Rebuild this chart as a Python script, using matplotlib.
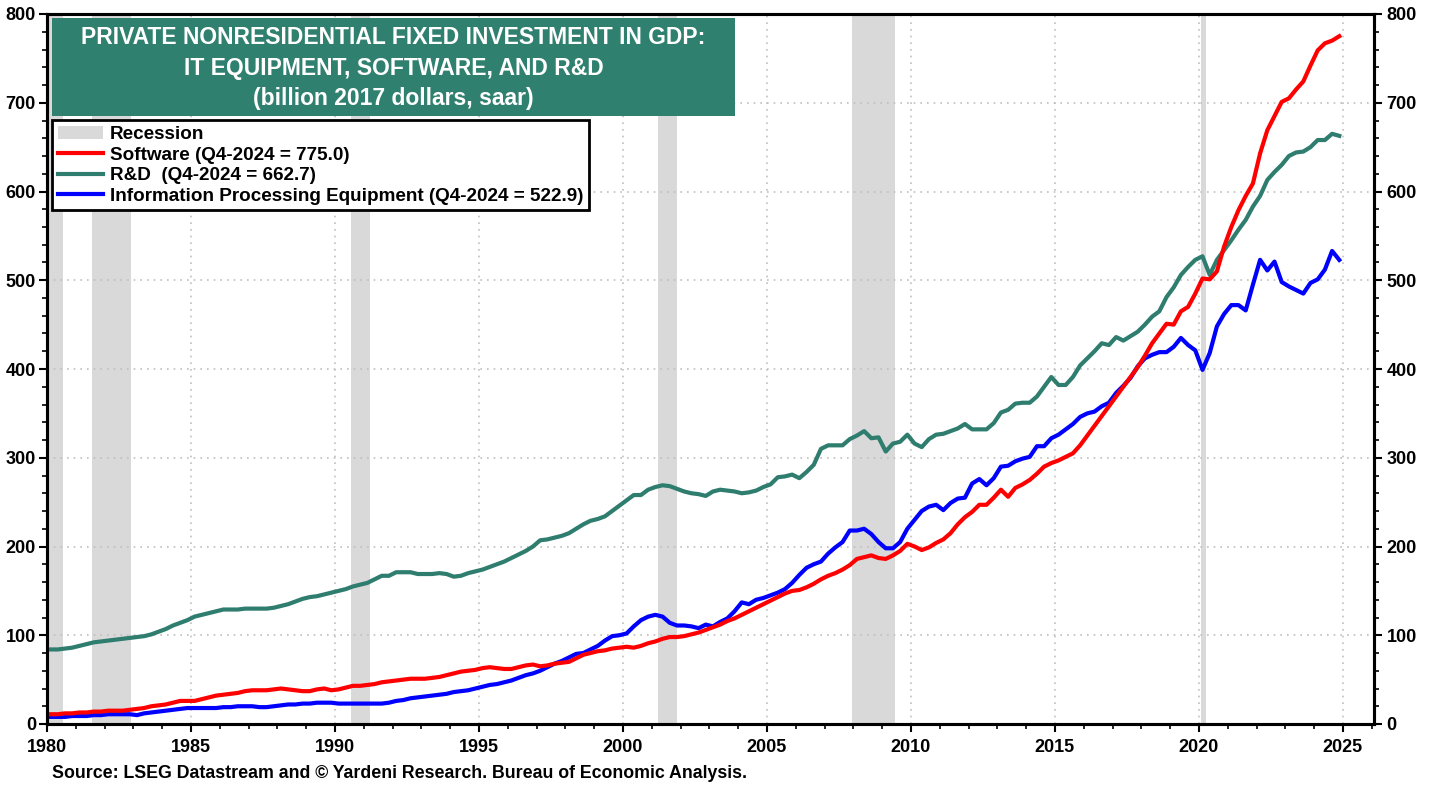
import numpy as np
import matplotlib
matplotlib.use("Agg")
import matplotlib.pyplot as plt
from matplotlib.patches import Rectangle, Patch
from matplotlib.lines import Line2D
from matplotlib.ticker import MultipleLocator

# ---------------- data (quarterly, 1980Q1 .. 2024Q4) ----------------
start_year = 1980
software = [
    11, 11, 12, 12,   13, 13, 14, 14,   15, 15, 15, 16,   17, 18, 20, 21,   22, 24, 26, 26,      # 1980-84
    26, 28, 30, 32,   33, 34, 35, 37,   38, 38, 38, 39,   40, 39, 38, 37,   37, 39, 40, 38,      # 1985-89
    39, 41, 43, 43,   44, 45, 47, 48,   49, 50, 51, 51,   51, 52, 53, 55,   57, 59, 60, 61,      # 1990-94
    63, 64, 63, 62,   62, 64, 66, 67,   65, 66, 68, 69,   70, 74, 78, 80,   82, 83, 85, 86,      # 1995-99
    87, 86, 88, 91,   93, 96, 98, 98,   99, 101, 103, 106, 109, 112, 116, 119, 123, 127, 131, 135,  # 2000-04
    139, 143, 147, 150, 151, 154, 158, 163, 167, 170, 174, 179, 186, 188, 190, 187, 186, 190, 195, 203,  # 2005-09
    200, 196, 199, 204, 208, 215, 225, 233, 239, 247, 247, 255, 264, 256, 266, 270, 275, 282, 290, 294,  # 2010-14
    297, 301, 305, 314, 325, 336, 347, 358, 369, 380, 391, 402, 415, 429, 440, 451, 450, 465, 470, 485,  # 2015-19
    502, 501, 510, 538, 560, 579, 595, 609, 643, 669, 685, 701, 705, 715, 724, 742, 759, 767, 770, 775.0,  # 2020-24
]
rnd = [
    84, 84, 85, 86,   88, 90, 92, 93,   94, 95, 96, 97,   98, 99, 101, 104, 107, 111, 114, 117,
    121, 123, 125, 127, 129, 129, 129, 130, 130, 130, 130, 131, 133, 135, 138, 141, 143, 144, 146, 148,
    150, 152, 155, 157, 159, 163, 167, 167, 171, 171, 171, 169, 169, 169, 170, 169, 166, 167, 170, 172,
    174, 177, 180, 183, 187, 191, 195, 200, 207, 208, 210, 212, 215, 220, 225, 229, 231, 234, 240, 246,
    252, 258, 258, 264, 267, 269, 268, 265, 262, 260, 259, 257, 262, 264, 263, 262, 260, 261, 263, 267,
    270, 278, 279, 281, 277, 284, 292, 310, 314, 314, 314, 321, 325, 330, 322, 323, 307, 316, 318, 326,
    316, 312, 321, 326, 327, 330, 333, 338, 332, 332, 332, 339, 351, 354, 361, 362, 362, 369, 380, 391,
    382, 382, 391, 404, 412, 420, 429, 427, 436, 432, 437, 442, 450, 459, 465, 481, 492, 506, 515, 523,
    527, 506, 523, 534, 545, 557, 568, 583, 595, 613, 622, 630, 640, 644, 645, 650, 658, 658, 665, 662.7,
]
it_equipment = [
    8, 8, 8, 9,       9, 9, 10, 10,     11, 11, 11, 11,   10, 12, 13, 14,   15, 16, 17, 18,
    18, 18, 18, 18,   19, 19, 20, 20,   20, 19, 19, 20,   21, 22, 22, 23,   23, 24, 24, 24,
    23, 23, 23, 23,   23, 23, 23, 24,   26, 27, 29, 30,   31, 32, 33, 34,   36, 37, 38, 40,
    42, 44, 45, 47,   49, 52, 55, 57,   60, 64, 68, 71,   75, 79, 80, 84,   88, 94, 99, 100,
    102, 110, 117, 121, 123, 121, 114, 111, 111, 110, 108, 112, 110, 115, 119, 127, 137, 135, 140, 142,
    145, 148, 152, 159, 168, 176, 180, 183, 192, 199, 205, 218, 218, 220, 214, 205, 198, 198, 205, 220,
    230, 240, 245, 247, 241, 249, 254, 255, 271, 276, 269, 277, 290, 291, 296, 299, 301, 313, 313, 322,
    326, 332, 338, 346, 350, 352, 358, 362, 373, 381, 390, 403, 412, 416, 419, 419, 425, 435, 427, 421,
    399, 418, 448, 462, 472, 472, 466, 495, 523, 511, 521, 498, 493, 489, 485, 497, 501, 512, 533, 522.9,
]
recessions = [(1980.0, 1980.55), (1981.55, 1982.92), (1990.55, 1991.2),
              (2001.22, 2001.87), (2007.95, 2009.45), (2020.07, 2020.24)]
x_ticks = [1980, 1985, 1990, 1995, 2000, 2005, 2010, 2015, 2020, 2025]
y_ticks = [0, 100, 200, 300, 400, 500, 600, 700, 800]
title_lines = ["PRIVATE NONRESIDENTIAL FIXED INVESTMENT IN GDP:",
               "IT EQUIPMENT, SOFTWARE, AND R&D",
               "(billion 2017 dollars, saar)"]
labels = ["Recession", "Software (Q4-2024 = 775.0)", "R&D  (Q4-2024 = 662.7)",
          "Information Processing Equipment (Q4-2024 = 522.9)"]
source = "Source: LSEG Datastream and \u00a9 Yardeni Research. Bureau of Economic Analysis."

# ---------------- styling ----------------
RED = "#FF0000"
TEAL = "#2E7D6F"
BLUE = "#0000FF"
REC = "#D9D9D9"
BOX = "#30806F"
narrow = ["Liberation Sans Narrow", "Liberation Sans", "DejaVu Sans"]
wide = ["Liberation Sans", "DejaVu Sans"]

n = len(software)
t = start_year + np.arange(n) / 4.0 + 0.125

fig = plt.figure(figsize=(14.38, 7.87), dpi=100)
ax = fig.add_axes([47 / 1438, 1 - 724 / 787, (1374 - 47) / 1438, (724 - 14) / 787])

for a, b in recessions:
    ax.axvspan(a, b, color=REC, lw=0, zorder=1)

ax.plot(t, it_equipment, color=BLUE, lw=3.0, zorder=4, solid_joinstyle="round")
ax.plot(t, rnd, color=TEAL, lw=3.0, zorder=3, solid_joinstyle="round")
ax.plot(t, software, color=RED, lw=3.0, zorder=5, solid_joinstyle="round")

ax.set_xlim(1980, 2026.08)
ax.set_ylim(0, 800)
ax.set_xticks(x_ticks)
ax.set_yticks(y_ticks)
ax.xaxis.set_minor_locator(MultipleLocator(1))
ax.yaxis.set_minor_locator(MultipleLocator(20))
ax.grid(True, which="major", color="#BFBFBF", linestyle=(0, (1, 3)), lw=1.2, zorder=0)

for s in ax.spines.values():
    s.set_linewidth(2.2)
ax.tick_params(axis="both", which="major", direction="out", length=6, width=1.5, labelsize=13)
ax.tick_params(axis="both", which="minor", direction="out", length=3.5, width=1.2)
ax.tick_params(axis="x", pad=5)
ax.tick_params(axis="y", pad=2)

ax2 = ax.twinx()
ax2.set_ylim(0, 800)
ax2.set_yticks(y_ticks)
ax2.yaxis.set_minor_locator(MultipleLocator(20))
ax2.tick_params(axis="y", which="major", direction="out", length=6, width=1.5, labelsize=13, pad=3)
ax2.tick_params(axis="y", which="minor", direction="out", length=3.5, width=1.2)
for s in ax2.spines.values():
    s.set_linewidth(2.2)

for lab in ax.get_xticklabels() + ax.get_yticklabels() + ax2.get_yticklabels():
    lab.set_fontfamily(narrow)
    lab.set_fontweight("bold")

# title box
x0 = (52 - 47) / 1327
x1 = (735 - 47) / 1327
y1 = (724 - 18) / 710
y0 = (724 - 116) / 710
ax.add_patch(Rectangle((x0, y0), x1 - x0, y1 - y0, transform=ax.transAxes,
                       facecolor=BOX, edgecolor="none", zorder=10))
for i, line in enumerate(title_lines):
    ypx = [38, 68, 99][i]
    ax.text((x0 + x1) / 2, (724 - ypx) / 710, line, transform=ax.transAxes,
            ha="center", va="center", color="white", fontsize=16.5,
            fontweight="bold", family=wide, zorder=11)

# legend
handles = [Patch(facecolor=REC, edgecolor="none"),
           Line2D([], [], color=RED, lw=3),
           Line2D([], [], color=TEAL, lw=3),
           Line2D([], [], color=BLUE, lw=3)]
leg = ax.legend(handles, labels, loc="upper left",
                bbox_to_anchor=((52 - 47) / 1327, (724 - 120) / 710),
                prop={"family": wide, "weight": "bold", "size": 13.6},
                frameon=True, fancybox=False, framealpha=1, edgecolor="black",
                borderpad=0.3, labelspacing=0.18, handlelength=2.4,
                handletextpad=0.35, borderaxespad=0)
leg.get_frame().set_linewidth(2)
leg.set_zorder(12)

fig.text(52 / 1438, 1 - 773 / 787, source, ha="left", va="center",
         fontsize=12.8, fontweight="bold", family=wide)

fig.savefig("out.png", dpi=100)
